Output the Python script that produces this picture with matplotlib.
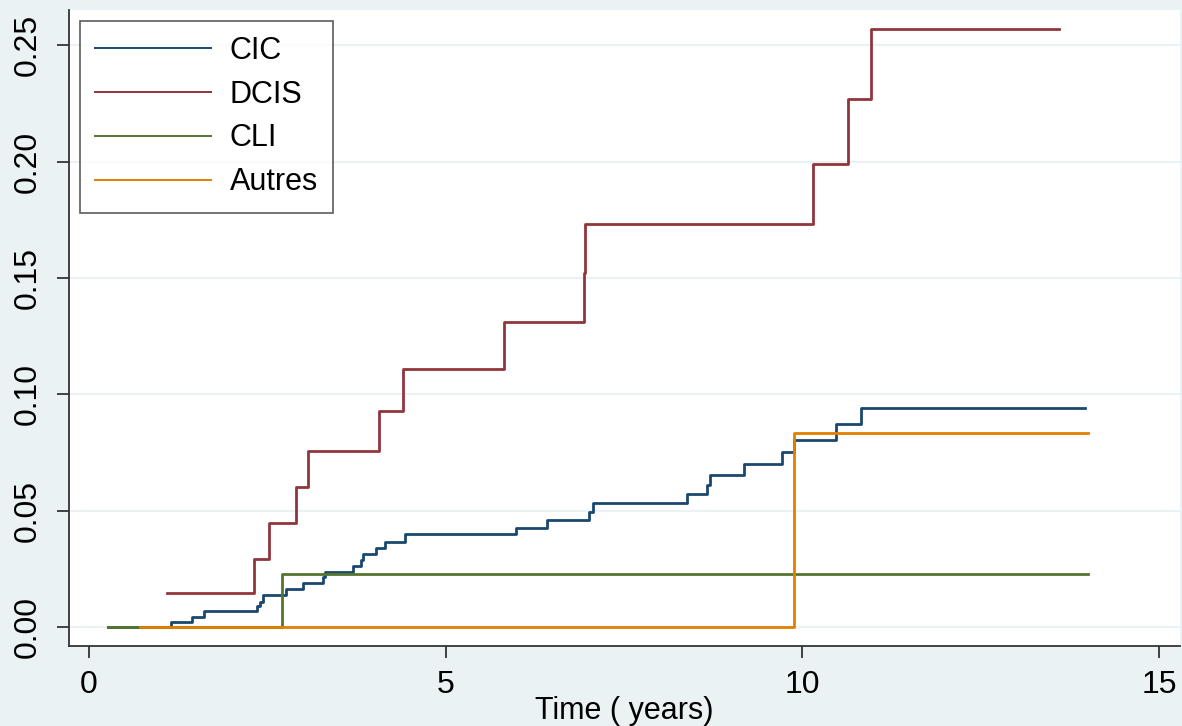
import matplotlib
matplotlib.use("Agg")
import matplotlib.pyplot as plt

plt.rcParams['font.family'] = ['Liberation Sans', 'DejaVu Sans']

# cumulative incidence step functions (time in years, value after each step)
cic_t = [0.27, 1.15, 1.44, 1.61, 2.35, 2.40, 2.435, 2.76, 3.00, 3.285, 3.31, 3.70,
         3.81, 3.84, 4.03, 4.15, 4.43, 5.98, 6.425, 7.014, 7.06, 8.39, 8.67,
         8.706, 9.18, 9.71, 9.884, 10.47, 10.82, 13.96]
cic_v = [0.0, 0.0023, 0.0042, 0.0069, 0.0092, 0.0109, 0.0138, 0.0162, 0.0188,
         0.0216, 0.0235, 0.0260, 0.0288, 0.0314, 0.0338, 0.0364, 0.0398, 0.0427,
         0.0460, 0.0495, 0.0532, 0.0570, 0.0610, 0.0653, 0.0700, 0.0753, 0.0804,
         0.0872, 0.0940, 0.0940]

dcis_t = [1.09, 2.317, 2.523, 2.902, 3.066, 4.066, 4.406, 5.818, 6.940, 6.954,
          10.146, 10.645, 10.959, 13.60]
dcis_v = [0.0145, 0.0291, 0.0446, 0.0600, 0.0758, 0.0930, 0.1107, 0.1311, 0.152,
          0.173, 0.199, 0.2268, 0.2569, 0.2569]

cli_t = [0.27, 2.71, 14.0]
cli_v = [0.0, 0.02265, 0.02265]

autres_t = [0.715, 9.884, 14.0]
autres_v = [0.0, 0.0835, 0.0835]

series = [("CIC", cic_t, cic_v, "#1a476f"),
          ("DCIS", dcis_t, dcis_v, "#90353b"),
          ("CLI", cli_t, cli_v, "#55752f"),
          ("Autres", autres_t, autres_v, "#e37e00")]

bg = "#eaf2f3"
fig = plt.figure(figsize=(11.82, 7.26), dpi=100, facecolor=bg)
ax = fig.add_axes([0.0584, 0.1102, 0.9399, 0.876])
ax.set_facecolor("white")

for name, t, v, col in series:
    ax.step(t, v, where="post", color=col, lw=2.0, label=name)

ax.set_xlim(-0.28, 15.295)
ax.set_ylim(-0.00817, 0.2651)
ax.set_xticks([0, 5, 10, 15])
ax.set_yticks([0.0, 0.05, 0.10, 0.15, 0.20, 0.25])
ax.set_yticklabels(["0.00", "0.05", "0.10", "0.15", "0.20", "0.25"],
                   rotation=90, va="center")
ax.yaxis.grid(True, color=bg, lw=1.5)
ax.set_axisbelow(True)

for s in ["top", "right"]:
    ax.spines[s].set_visible(False)
for s in ["left", "bottom"]:
    ax.spines[s].set_color("#333333")
    ax.spines[s].set_linewidth(1.3)

ax.tick_params(axis="both", colors="#333333", labelcolor="black",
               length=8.6, width=1.3, labelsize=23)
ax.tick_params(axis="y", pad=10)
ax.tick_params(axis="x", pad=9)

ax.set_xlabel("Time ( years)", fontsize=22, labelpad=-3)

leg = ax.legend(loc="upper left", fontsize=22, frameon=True, fancybox=False,
                handlelength=3.8, handletextpad=0.6, labelspacing=0.45,
                borderpad=0.5, borderaxespad=0.35)
leg.get_frame().set_edgecolor("#333333")
leg.get_frame().set_linewidth(1.2)
for line in leg.get_lines():
    line.set_linewidth(1.4)

fig.savefig("out.png", dpi=100, facecolor=bg)
